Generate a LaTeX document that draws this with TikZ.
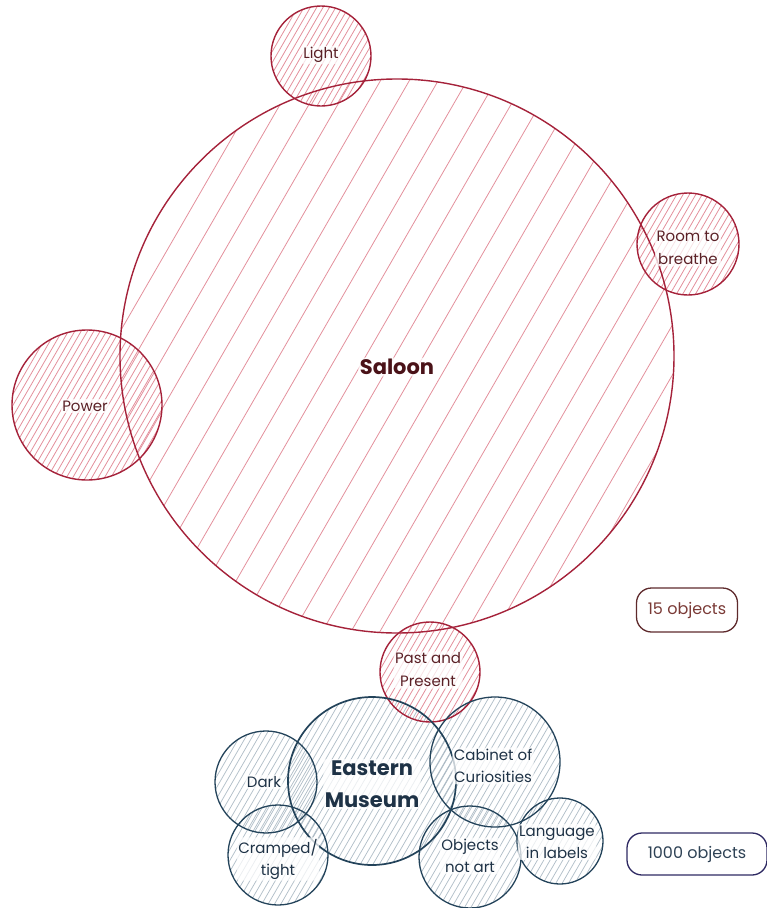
\documentclass[tikz,border=0pt]{standalone}
\usepackage{fontspec}
\setmainfont{Poppins}
\definecolor{redline}{HTML}{A5223A}
\definecolor{redhatch}{HTML}{E3909C}
\definecolor{redtext}{HTML}{5A2026}
\definecolor{saltext}{HTML}{4A1218}
\definecolor{navyline}{HTML}{23435A}
\definecolor{navyhatch}{HTML}{7E94A4}
\definecolor{navytext}{HTML}{1E3246}
\definecolor{brownbox}{HTML}{5E2A2C}
\definecolor{browntext}{HTML}{7A3A36}
\definecolor{purplebox}{HTML}{2E2962}
\definecolor{slatetext}{HTML}{2E4255}
\newcommand{\hatchcircle}[5]{%
  \begin{scope}
    \clip (#1,#2) circle[radius=#3pt];
    \pgfmathtruncatemacro{\hN}{2*#3/#5+1}
    \foreach \i in {0,...,\hN}{
      \pgfmathsetmacro{\hk}{-#3+\i*#5}
      \draw[#4] ({#1+\hk*0.866-#3*0.5},{#2+\hk*0.5+#3*0.866}) -- ({#1+\hk*0.866+#3*0.5},{#2+\hk*0.5-#3*0.866});
    }
  \end{scope}}
\tikzset{
  redhatchline/.style={draw=redhatch, line width=0.8pt},
  navyhatchline/.style={draw=navyhatch!70, line width=0.75pt, draw opacity=0.85},
  redcirc/.style={circle, draw=redline, line width=1.4pt, inner sep=0pt},
  navycirc/.style={circle, draw=navyline, line width=1.3pt, inner sep=0pt},
  halo/.style={fill=white, fill opacity=0.75, text opacity=1, inner sep=1.5pt, rounded corners=3pt, align=center},
  redlabel/.style={halo, text=redtext, font=\fontsize{15}{23}\selectfont},
  navylabel/.style={halo, text=navytext, font=\fontsize{15}{22}\selectfont},
  countbox/.style={rounded corners=15pt, line width=1.3pt, inner sep=0pt},
}
\begin{document}
\begin{tikzpicture}[x=1pt,y=-1pt]
\useasboundingbox (0,0) rectangle (767,908);
% hatching
\hatchcircle{397}{356}{277}{redhatchline}{25}
\hatchcircle{321}{56}{50}{redhatchline}{5.5}
\hatchcircle{688}{244}{51}{redhatchline}{5.5}
\hatchcircle{87}{405}{75}{redhatchline}{5.5}
\hatchcircle{430}{672}{50}{redhatchline}{5.5}
\hatchcircle{372}{781}{84}{navyhatchline}{5.5}
\hatchcircle{266}{782}{51}{navyhatchline}{5.5}
\hatchcircle{278}{855}{50}{navyhatchline}{5.5}
\hatchcircle{495}{762}{65}{navyhatchline}{5.5}
\hatchcircle{470}{857}{51}{navyhatchline}{5.5}
\hatchcircle{560}{841}{43}{navyhatchline}{5.5}
% outlines
\node[redcirc, minimum size=554pt] (saloon) at (397,356) {};
\node[redcirc, minimum size=100pt] (light) at (321,56) {};
\node[redcirc, minimum size=102pt] (room) at (688,244) {};
\node[redcirc, minimum size=150pt] (power) at (87,405) {};
\node[redcirc, minimum size=100pt] (past) at (430,672) {};
\node[navycirc, minimum size=168pt, line width=1.7pt] (eastern) at (372,781) {};
\node[navycirc, minimum size=102pt] (dark) at (266,782) {};
\node[navycirc, minimum size=100pt] (cramped) at (278,855) {};
\node[navycirc, minimum size=130pt] (cabinet) at (495,762) {};
\node[navycirc, minimum size=102pt] (objects) at (470,857) {};
\node[navycirc, minimum size=86pt] (language) at (560,841) {};
% labels
\node[halo, text=saltext, font=\fontsize{21}{24}\selectfont\bfseries] (saloonlbl) at (397,367) {Saloon};
\node[redlabel] (lightlbl) at (321,55) {Light};
\node[redlabel] (roomlbl) at (688,248) {Room to\\breathe};
\node[redlabel] (powerlbl) at (85,406) {Power};
\node[redlabel] (pastlbl) at (428,670) {Past and\\Present};
\node[halo, text=navytext, font=\fontsize{21}{32}\selectfont\bfseries] (easternlbl) at (372,784) {Eastern\\Museum};
\node[navylabel] (darklbl) at (264,782) {Dark};
\node[navylabel] (crampedlbl) at (278,859) {Cramped/\\tight};
\node[navylabel] (cabinetlbl) at (493,766) {Cabinet of\\Curiosities};
\node[navylabel] (objectslbl) at (470,856) {Objects\\not art};
\node[navylabel] (languagelbl) at (557,842) {Language\\in labels};
% count boxes
\node[countbox, draw=brownbox, minimum width=101pt, minimum height=44pt, text=browntext, font=\fontsize{16}{18}\selectfont] (count15) at (687,610) {15 objects};
\node[countbox, draw=purplebox, minimum width=140pt, minimum height=42pt, text=slatetext, font=\fontsize{16}{18}\selectfont] (count1000) at (697,854) {1000 objects};
\end{tikzpicture}
\end{document}
